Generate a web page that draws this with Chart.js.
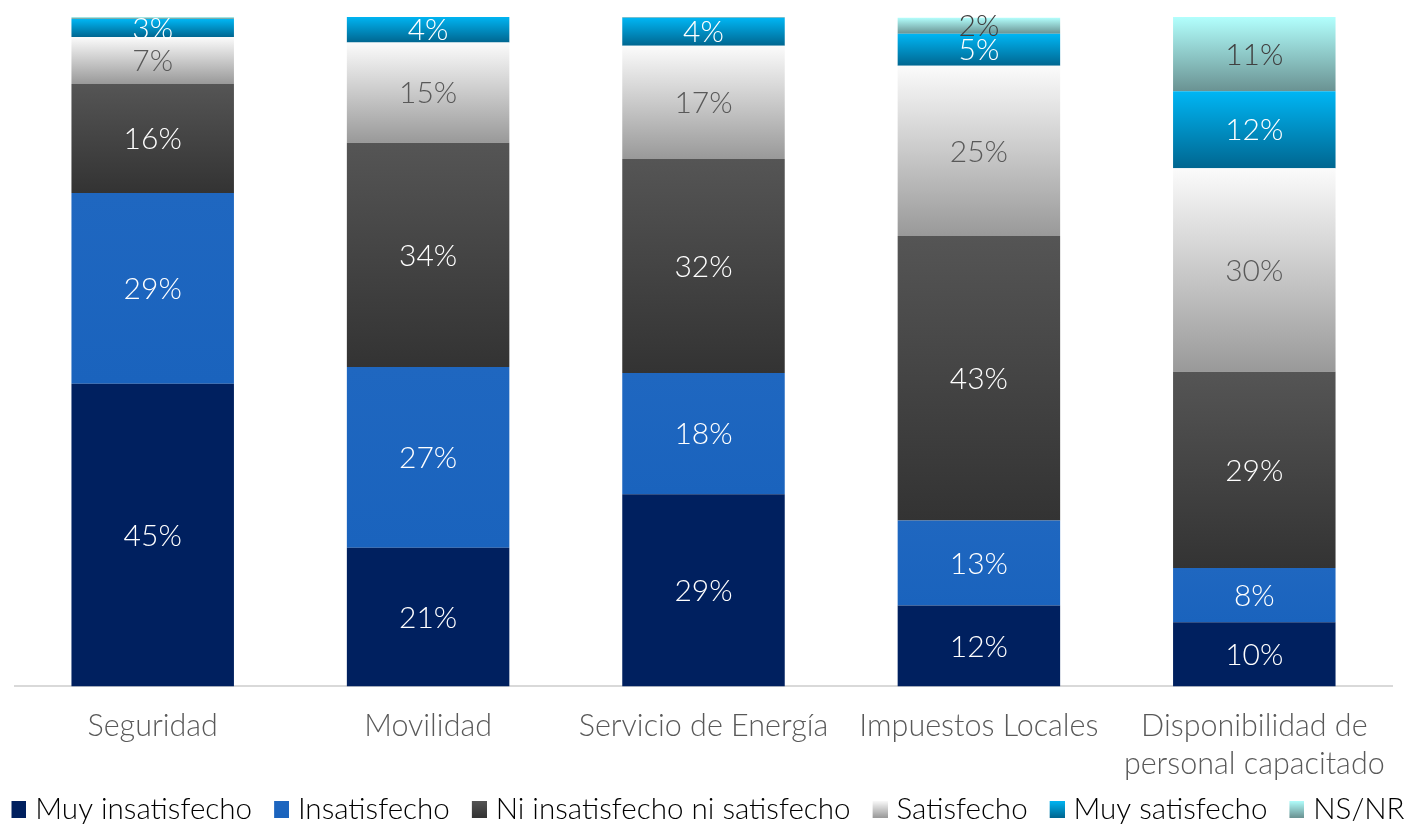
<!DOCTYPE html>
<html>
<head>
<meta charset="utf-8">
<script src="https://cdn.jsdelivr.net/npm/chart.js@4.4.1/dist/chart.umd.min.js"></script>
<style>
  html, body { margin: 0; padding: 0; background: #fff; }
  #wrap { width: 1412px; height: 825px; }
</style>
</head>
<body>
<div id="wrap"><canvas id="chart" width="1412" height="825"></canvas></div>
<script>
const categories = ['Seguridad', 'Movilidad', 'Servicio de Energía', 'Impuestos Locales', ['Disponibilidad de', 'personal capacitado']];
const seriesNames = ['Muy insatisfecho', 'Insatisfecho', 'Ni insatisfecho ni satisfecho', 'Satisfecho', 'Muy satisfecho', 'NS/NR'];

const muyInsatisfecho = [45.2, 20.7, 28.7, 12.1, 9.6];
const insatisfecho = [28.5, 27.0, 18.1, 12.7, 8.1];
const niNi = [16.3, 33.5, 32.0, 42.5, 29.3];
const satisfecho = [7.0, 15.0, 16.9, 25.4, 30.4];
const muySatisfecho = [2.7, 3.9, 4.2, 4.8, 11.5];
const nsnr = [0.3, 0.0, 0.1, 2.4, 11.1];

const series = [muyInsatisfecho, insatisfecho, niNi, satisfecho, muySatisfecho, nsnr];

// top / bottom colour of each segment gradient
const gradStops = [
  ['#00205f', '#00205f'],
  ['#1f67c0', '#1a63bd'],
  ['#555555', '#333333'],
  ['#fbfbfb', '#999999'],
  ['#00b6f4', '#006690'],
  ['#b2fffd', '#6a9292']
];
const labelColors = ['#ffffff', '#ffffff', '#ffffff', '#595959', '#ffffff', '#404040'];

const FONT = 'Lato, "Open Sans", sans-serif';

function segmentFill(ctx, i) {
  const chart = ctx.chart;
  const y = chart.scales.y;
  if (ctx.type !== 'data' || !y || !chart.chartArea) return gradStops[i][1];
  const j = ctx.dataIndex;
  let base = 0;
  for (let k = 0; k < i; k++) base += series[k][j];
  const top = y.getPixelForValue(base + series[i][j]);
  const bottom = y.getPixelForValue(base);
  if (!(bottom - top > 0.5)) return gradStops[i][1];
  const g = chart.ctx.createLinearGradient(0, top, 0, bottom);
  g.addColorStop(0, gradStops[i][0]);
  g.addColorStop(1, gradStops[i][1]);
  return g;
}

// legend swatch: transparent on the left, gradient box on the right,
// so the box sits close to its text and far from the previous item
function swatch(i) {
  const c = document.createElement('canvas');
  c.width = 35; c.height = 17;
  const x = c.getContext('2d');
  const g = x.createLinearGradient(0, 0, 0, 17);
  g.addColorStop(0, gradStops[i][0]);
  g.addColorStop(1, gradStops[i][1]);
  x.fillStyle = g;
  x.fillRect(20, 0, 15, 17);
  return c;
}
const swatches = seriesNames.map((n, i) => swatch(i));

const valueLabels = {
  id: 'valueLabels',
  afterDatasetsDraw(chart) {
    const ctx = chart.ctx;
    ctx.save();
    ctx.font = '300 30px ' + FONT;
    ctx.textAlign = 'center';
    ctx.textBaseline = 'middle';
    chart.data.datasets.forEach((ds, i) => {
      const meta = chart.getDatasetMeta(i);
      meta.data.forEach((el, j) => {
        const v = ds.data[j];
        if (v < 1) return;
        ctx.fillStyle = labelColors[i];
        ctx.fillText(Math.round(v) + '%', el.x, (el.y + el.base) / 2 + 1);
      });
    });
    ctx.restore();
  }
};

// the legend row is a bit wider than the plot area; keep it on one line
// and centre it on the whole canvas
const oneRowLegend = {
  id: 'oneRowLegend',
  afterInit(chart) {
    const legend = chart.legend;
    if (!legend) return;
    const fit = legend.fit;
    legend.fit = function () {
      this.maxWidth = 5000;
      fit.call(this);
    };
    const draw = legend.draw;
    legend.draw = function () {
      const left = this.left, right = this.right;
      const lw = this.lineWidths ? this.lineWidths[0] : 0;
      this.left = chart.width / 2 - 1 - lw / 2 - 8;
      this.right = 5000;
      draw.call(this);
      this.left = left;
      this.right = right;
    };
  }
};

new Chart(document.getElementById('chart'), {
  type: 'bar',
  data: {
    labels: categories,
    datasets: series.map((data, i) => ({
      label: seriesNames[i],
      data,
      backgroundColor: ctx => segmentFill(ctx, i),
      borderWidth: 0,
      barPercentage: 0.59,
      categoryPercentage: 1
    }))
  },
  options: {
    responsive: false,
    animation: false,
    layout: { padding: { top: 17, left: 15, right: 20, bottom: -9 } },
    scales: {
      x: {
        stacked: true,
        grid: { display: false, drawTicks: false },
        border: { color: '#d9d9d9', width: 2 },
        ticks: {
          color: '#595959',
          font: { family: FONT, size: 30.5, weight: '300', lineHeight: 1.25 },
          padding: 21,
          maxRotation: 0,
          autoSkip: false
        },
        afterFit: scale => { scale.height = 100; }
      },
      y: { stacked: true, min: 0, max: 100, display: false }
    },
    plugins: {
      tooltip: { enabled: false },
      legend: {
        position: 'bottom',
        align: 'start',
        labels: {
          usePointStyle: true,
          pointStyleWidth: 23,
          boxHeight: 17,
          padding: 8,
          color: '#595959',
          font: { family: FONT, size: 29.6, weight: '300' },
          generateLabels: chart => seriesNames.map((n, i) => ({
            text: n,
            pointStyle: swatches[i],
            fillStyle: gradStops[i][1],
            strokeStyle: 'transparent',
            lineWidth: 0,
            datasetIndex: i
          }))
        }
      }
    }
  },
  plugins: [valueLabels, oneRowLegend]
});
</script>
</body>
</html>
